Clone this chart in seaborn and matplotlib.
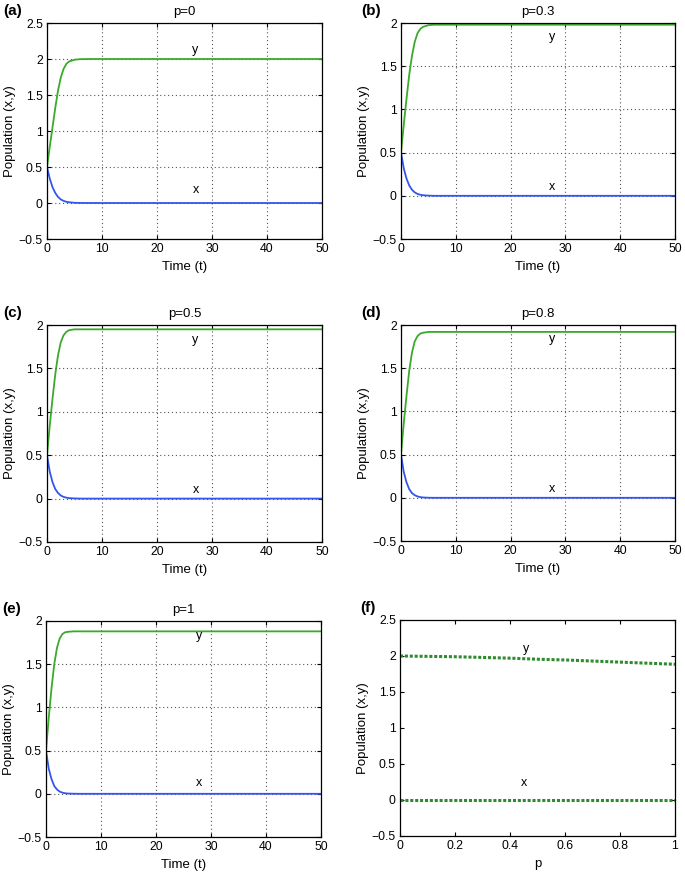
import numpy as np
import pandas as pd
import seaborn as sns
import matplotlib.pyplot as plt

# time grid of the simulations
t = [0, 0.5, 1, 1.5, 2, 2.5, 3, 3.5, 4, 5, 6, 8, 50]

# p = 0
y_p0 = [0.5, 0.78, 1.05, 1.32, 1.56, 1.74, 1.86, 1.93, 1.965, 1.99, 1.998, 2.0, 2.0]
x_p0 = [0.5, 0.34, 0.22, 0.14, 0.085, 0.05, 0.03, 0.017, 0.01, 0.003, 0.001, 0.0, 0.0]
# p = 0.3
y_p03 = [0.5, 0.82, 1.12, 1.40, 1.62, 1.78, 1.88, 1.93, 1.955, 1.975, 1.98, 1.98, 1.98]
x_p03 = [0.5, 0.32, 0.20, 0.12, 0.07, 0.04, 0.022, 0.012, 0.007, 0.002, 0.0, 0.0, 0.0]
# p = 0.5
y_p05 = [0.5, 0.84, 1.15, 1.43, 1.65, 1.80, 1.88, 1.92, 1.94, 1.95, 1.95, 1.95, 1.95]
x_p05 = [0.5, 0.31, 0.19, 0.11, 0.065, 0.036, 0.02, 0.011, 0.006, 0.002, 0.0, 0.0, 0.0]
# p = 0.8
y_p08 = [0.5, 0.86, 1.18, 1.47, 1.68, 1.81, 1.87, 1.90, 1.91, 1.92, 1.92, 1.92, 1.92]
x_p08 = [0.5, 0.30, 0.18, 0.10, 0.055, 0.03, 0.016, 0.008, 0.004, 0.001, 0.0, 0.0, 0.0]
# p = 1
y_p1 = [0.5, 0.88, 1.22, 1.50, 1.69, 1.80, 1.85, 1.87, 1.875, 1.88, 1.88, 1.88, 1.88]
x_p1 = [0.5, 0.29, 0.17, 0.09, 0.05, 0.025, 0.013, 0.006, 0.003, 0.001, 0.0, 0.0, 0.0]

# equilibrium vs p (panel f)
p_vals = [0, 0.1, 0.2, 0.3, 0.4, 0.5, 0.6, 0.7, 0.8, 0.9, 1.0]
y_eq = [2.0, 1.995, 1.99, 1.98, 1.97, 1.955, 1.945, 1.93, 1.915, 1.90, 1.885]
x_eq = [0, 0, 0, 0, 0, 0, 0, 0, 0, 0, 0]

panels = [("(a)", "p=0", y_p0, x_p0, 2.5),
          ("(b)", "p=0.3", y_p03, x_p03, 2.0),
          ("(c)", "p=0.5", y_p05, x_p05, 2.0),
          ("(d)", "p=0.8", y_p08, x_p08, 2.0),
          ("(e)", "p=1", y_p1, x_p1, 2.0)]

sns.set_style("ticks")
plt.rcParams['font.family'] = ['Liberation Sans', 'DejaVu Sans']
plt.rcParams['xtick.direction'] = 'in'
plt.rcParams['ytick.direction'] = 'in'
plt.rcParams['xtick.top'] = True
plt.rcParams['ytick.right'] = True
plt.rcParams['text.color'] = 'black'
plt.rcParams['axes.labelcolor'] = 'black'
plt.rcParams['xtick.color'] = 'black'
plt.rcParams['ytick.color'] = 'black'
plt.rcParams['axes.edgecolor'] = 'black'

green = "#3aaa2a"
blue = "#3355ee"

W, H = 685, 875
fig = plt.figure(figsize=(6.85, 8.75), dpi=100)

# axes boxes in pixels: left, top, right, bottom
boxes = [(47, 23, 322, 239), (401, 23, 675, 239),
         (47, 325, 322, 542), (401, 325, 675, 541),
         (46, 621, 321, 837), (400, 620, 675, 836)]
y_lab_pos = [(27, 2.12), (27.5, 1.84), (27, 1.83), (27.5, 1.84), (27.8, 1.83)]
x_lab_pos = [(27, 0.18), (27.5, 0.1), (27, 0.1), (27.5, 0.1), (27.8, 0.12)]


def make_ax(box):
    l, tp, r, b = box
    return fig.add_axes([l / W, 1 - b / H, (r - l) / W, (b - tp) / H])


for i, (tag, title, ys, xs, top) in enumerate(panels):
    ax = make_ax(boxes[i])
    df = pd.DataFrame({"t": t, "y": ys, "x": xs})
    sns.lineplot(data=df, x="t", y="y", ax=ax, color=green, lw=1.3)
    sns.lineplot(data=df, x="t", y="x", ax=ax, color=blue, lw=1.3)
    ax.set_xlim(0, 50)
    ax.set_ylim(-0.5, top)
    ax.set_xticks([0, 10, 20, 30, 40, 50])
    ticks = [-0.5, 0, 0.5, 1, 1.5, 2] + ([2.5] if top > 2 else [])
    ax.set_yticks(ticks)
    ax.set_yticklabels(["\u22120.5" if v == -0.5 else f"{v:g}" for v in ticks])
    ax.grid(True, color="#555555", linestyle=(0, (1, 2.5)), lw=0.8)
    ax.set_xlabel("Time (t)", fontsize=9.5)
    ax.set_ylabel("Population (x,y)", fontsize=9.5, labelpad=2)
    ax.set_title(title, fontsize=9.5, pad=6)
    ax.tick_params(labelsize=8.8, length=3, pad=3)
    ax.text(*y_lab_pos[i], "y", fontsize=9, ha="center", va="center")
    ax.text(*x_lab_pos[i], "x", fontsize=9, ha="center", va="center")
    for s in ax.spines.values():
        s.set_linewidth(0.9)
    l, tp, r, b = boxes[i]
    fig.text((l - 44) / W if i % 2 == 0 else (l - 40) / W, 1 - (tp - 12) / H, tag,
             fontsize=11, fontweight="bold", ha="left", va="center")

# panel f
ax = make_ax(boxes[5])
dff = pd.DataFrame({"p": p_vals, "y": y_eq, "x": x_eq})
sns.lineplot(data=dff, x="p", y="y", ax=ax, color="#2e8b2e", lw=2.2, linestyle=(0, (1, 0.6)))
sns.lineplot(data=dff, x="p", y="x", ax=ax, color="#2e8b2e", lw=2.2, linestyle=(0, (1, 0.6)))
ax.set_xlim(0, 1)
ax.set_ylim(-0.5, 2.5)
ax.set_xticks([0, 0.2, 0.4, 0.6, 0.8, 1])
ax.set_xticklabels(["0", "0.2", "0.4", "0.6", "0.8", "1"])
ticks = [-0.5, 0, 0.5, 1, 1.5, 2, 2.5]
ax.set_yticks(ticks)
ax.set_yticklabels(["\u22120.5" if v == -0.5 else f"{v:g}" for v in ticks])
ax.set_xlabel("p", fontsize=9.5)
ax.set_ylabel("Population (x,y)", fontsize=9.5, labelpad=2)
ax.tick_params(labelsize=8.8, length=3, pad=3)
ax.text(0.46, 2.1, "y", fontsize=9, ha="center", va="center")
ax.text(0.45, 0.23, "x", fontsize=9, ha="center", va="center")
for s in ax.spines.values():
    s.set_linewidth(0.9)
fig.text((400 - 40) / W, 1 - (620 - 12) / H, "(f)", fontsize=11,
         fontweight="bold", ha="left", va="center")

plt.savefig("out.png", dpi=100)
